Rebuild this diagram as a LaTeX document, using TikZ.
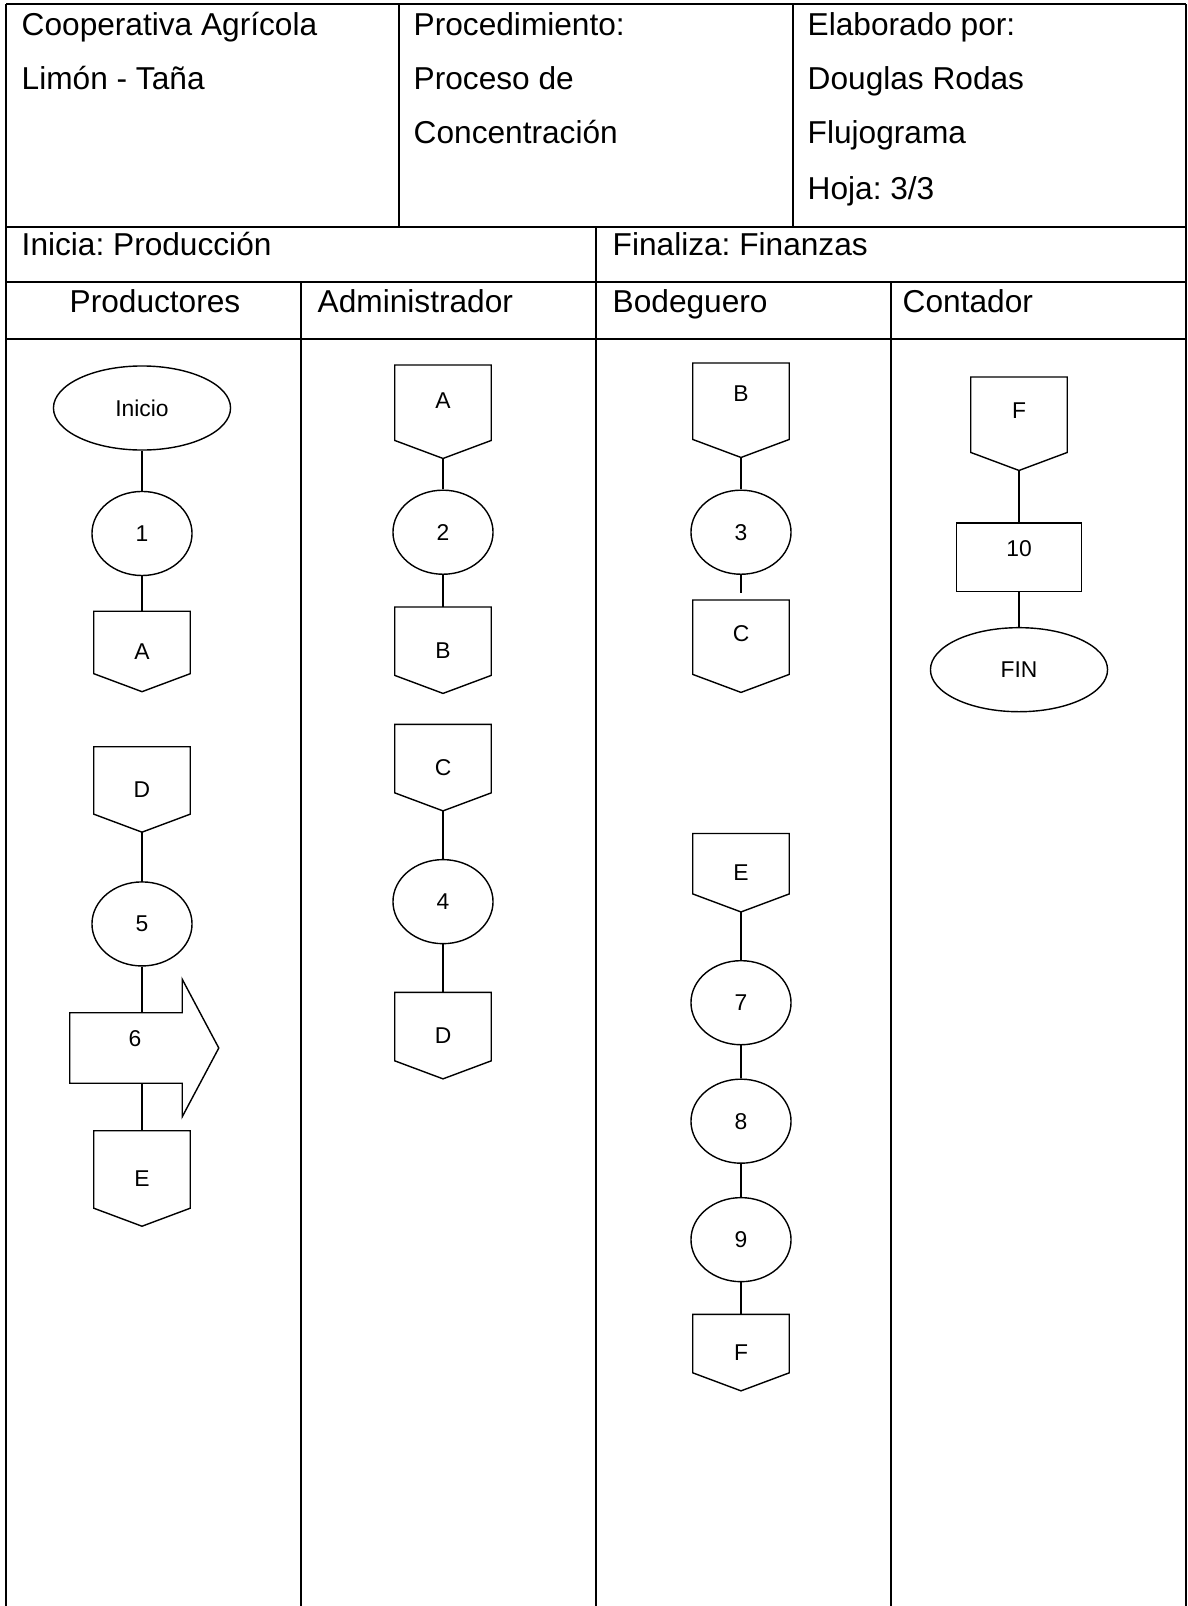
\documentclass[tikz,border=0pt]{standalone}
\usepackage{fontspec}
\setmainfont{Liberation Sans}
\usetikzlibrary{positioning,shapes.geometric,shapes.arrows,backgrounds}
\tikzset{
    %Define style for header texts
    head/.style={
           inner sep=0pt,
           anchor=base west,
           font=\fontsize{9}{11}\selectfont},
    %Define styles for flow shapes
    term/.style={
           ellipse,
           draw=black, line width=0.4pt,
           fill=white,
           minimum width=1.77cm,
           minimum height=0.84cm,
           font=\fontsize{6.5}{8}\selectfont},
    proc/.style={
           ellipse,
           draw=black, line width=0.4pt,
           fill=white,
           minimum width=1cm,
           minimum height=0.84cm,
           font=\fontsize{6.5}{8}\selectfont},
    task/.style={
           rectangle,
           draw=black, line width=0.4pt,
           fill=white,
           minimum width=1.25cm,
           minimum height=0.68cm,
           font=\fontsize{6.5}{8}\selectfont},
    offpage/.style={
           rectangle,
           minimum width=0.95cm,
           minimum height=0.9cm,
           font=\fontsize{6.5}{8}\selectfont,
           append after command={
             \pgfextra{\edef\offn{\tikzlastnode}}
             (\offn.north west) edge[con, to path={
                 -- ([yshift=0.18cm]\offn.south west) -- (\offn.south)
                 -- ([yshift=0.18cm]\offn.south east) -- (\tikztotarget) -- cycle}]
             (\offn.north east)}},
    arrowbox/.style={
           single arrow,
           single arrow head extend=0.335cm,
           single arrow tip angle=124,
           draw=black, line width=0.4pt,
           fill=white,
           text height=0.16cm,
           text depth=0.2cm,
           inner ysep=0.165cm,
           minimum height=1.49cm,
           font=\fontsize{6.5}{8}\selectfont},
    % Define connector style
    con/.style={
           -,
           line width=0.4pt}
}

\begin{document}
\frenchspacing
\begin{tikzpicture}[x=0.01cm,y=-0.01cm]
\useasboundingbox (0,0) rectangle (1188,1606);
% table
\draw[line width=0.6pt] (6,4) -- (1186,4)
  (6,1606) -- (6,4) (1186,4) -- (1186,1606)
  (6,227) -- (1186,227) (6,282) -- (1186,282) (6,339) -- (1186,339)
  (399,4) -- (399,227) (793,4) -- (793,227)
  (596,227) -- (596,1606) (301,282) -- (301,1606) (891,282) -- (891,1606);
\node[head] (coopa) at (21,35) {Cooperativa Agrícola};
\node[head] (coopb) at (21,90) {Limón - Taña};
\node[head] (proca) at (413,35) {Procedimiento:};
\node[head] (procb) at (413,90) {Proceso de};
\node[head] (procc) at (413,143) {Concentración};
\node[head] (elaba) at (807,35) {Elaborado por:};
\node[head] (elabb) at (807,90) {Douglas Rodas};
\node[head] (elabc) at (807,143) {Flujograma};
\node[head] (elabd) at (807,199) {Hoja: 3/3};
\node[head] (inicia) at (21,255) {Inicia: Producción};
\node[head] (finaliza) at (612,255) {Finaliza: Finanzas};
\node[head, anchor=base] (productores) at (155,312) {Productores};
\node[head] (administrador) at (317,312) {Administrador};
\node[head] (bodeguero) at (612,312) {Bodeguero};
\node[head] (contador) at (902,312) {Contador};
% Productores
\node[term] (inicio) at (142,408) {Inicio};
\node[proc, below=0.4cm of inicio] (n1) {1};
\node[offpage, below=0.35cm of n1, minimum height=0.79cm] (pA) {A};
\node[offpage, below=0.55cm of pA, minimum height=0.84cm] (pD) {D};
\node[proc, below=0.49cm of pD] (n5) {5};
\node[offpage, below=1.64cm of n5, minimum height=0.94cm] (pE) {E};
\node[arrowbox, anchor=tail] (n6) at (69,1048) {6};
% Administrador
\node[offpage, anchor=north, minimum height=0.92cm, text depth=0.22cm] (aA) at (443,365) {A};
\node[proc, below=0.31cm of aA] (n2) {2};
\node[offpage, below=0.32cm of n2, minimum height=0.85cm] (aB) {B};
\node[offpage, below=0.31cm of aB, minimum height=0.85cm] (aC) {C};
\node[proc, below=0.48cm of aC] (n4) {4};
\node[offpage, below=0.48cm of n4, minimum height=0.85cm] (aD) {D};
% Bodeguero
\node[offpage, anchor=north, minimum height=0.93cm, text depth=0.34cm] (bB) at (741,363) {B};
\node[proc, below=0.32cm of bB] (n3) {3};
\node[offpage, below=0.25cm of n3, minimum height=0.91cm, text depth=0.26cm] (bC) {C};
\node[offpage, below=1.41cm of bC, minimum height=0.77cm] (bE) {E};
\node[proc, below=0.48cm of bE] (n7) {7};
\node[proc, below=0.33cm of n7] (n8) {8};
\node[proc, below=0.33cm of n8] (n9) {9};
\node[offpage, below=0.32cm of n9, minimum height=0.75cm] (bF) {F};
% Contador
\node[offpage, anchor=north, minimum height=0.92cm, text depth=0.26cm] (cF) at (1019,377) {F};
\node[task, below=0.52cm of cF, text depth=0.18cm] (n10) {10};
\node[term, below=0.35cm of n10] (fin) {FIN};
\begin{scope}[on background layer]
\path[con]
  (inicio) edge (n1) (n1) edge (pA)
  (pD) edge (n5) (n5) edge (pE)
  (aA) edge (n2) (n2) edge (aB)
  (aC) edge (n4) (n4) edge (aD)
  (bB) edge (n3) (n3) edge[shorten >=2pt] (bC)
  (bE) edge (n7) (n7) edge (n8) (n8) edge (n9) (n9) edge (bF)
  (cF) edge (n10) (n10) edge (fin);
\end{scope}
\end{tikzpicture}
\end{document}
